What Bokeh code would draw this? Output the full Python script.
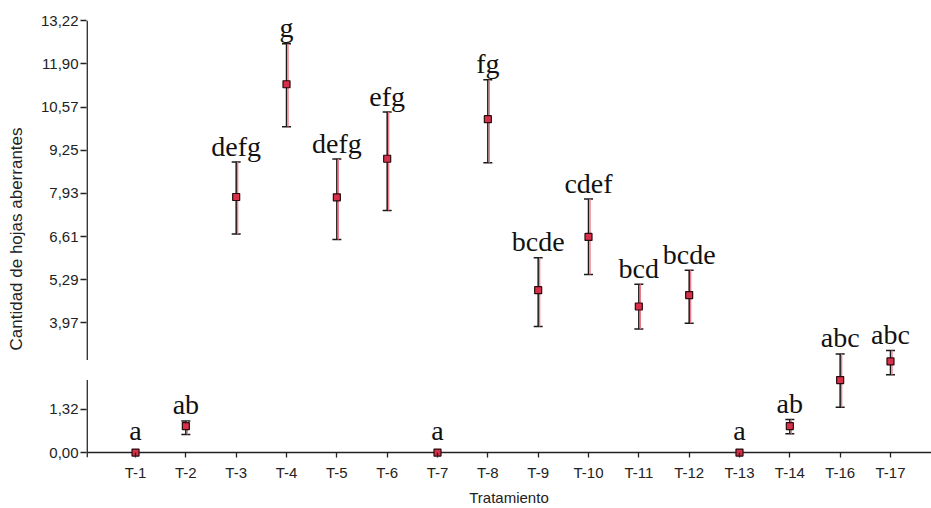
from bokeh.plotting import figure
from bokeh.models import Range1d, FixedTicker, Span, Whisker, TeeHead, ColumnDataSource
from bokeh.core.properties import value
from bokeh.embed import file_html
from bokeh.resources import INLINE

# ---- data ----
treatments = ["T-1", "T-2", "T-3", "T-4", "T-5", "T-6", "T-7", "T-8",
              "T-9", "T-10", "T-11", "T-12", "T-13", "T-14", "T-16", "T-17"]
means = [0.00, 0.81, 7.82, 11.27, 7.81, 8.99, 0.00, 10.20,
         4.97, 6.60, 4.47, 4.82, 0.00, 0.81, 2.22, 2.79]
upper = [0.00, 0.97, 8.89, 12.51, 8.98, 10.42, 0.00, 11.41,
         5.96, 7.76, 5.15, 5.58, 0.00, 1.01, 3.02, 3.12]
lower = [0.00, 0.55, 6.69, 9.97, 6.52, 7.41, 0.00, 8.87,
         3.86, 5.45, 3.78, 3.96, 0.00, 0.58, 1.39, 2.38]
letters = ["a", "ab", "defg", "g", "defg", "efg", "a", "fg",
           "bcde", "cdef", "bcd", "bcde", "a", "ab", "abc", "abc"]

y_ticks = [0.00, 1.32, 3.97, 5.29, 6.61, 7.93, 9.25, 10.57, 11.90, 13.22]
y_tick_labels = ["0,00", "1,32", "3,97", "5,29", "6,61", "7,93",
                 "9,25", "10,57", "11,90", "13,22"]

# axis-break extent (where the y-axis line is interrupted)
BREAK_LO = 2.22
BREAK_HI = 2.83

# ---- layout ----
X_START, X_END = 0.026, 16.815
Y_START, Y_END = -0.15, 13.22
FRAME_H = 508 - 20 - 49
PX = FRAME_H / (Y_END - Y_START)   # pixels per data unit (vertical)

xs = list(range(1, len(treatments) + 1))

p = figure(width=931, height=508, output_backend="svg", toolbar_location=None,
           x_range=Range1d(X_START, X_END), y_range=Range1d(Y_START, Y_END),
           min_border_left=86, min_border_right=0, min_border_top=20,
           min_border_bottom=49)
p.background_fill_color = "white"
p.border_fill_color = "white"
p.outline_line_color = None
p.xgrid.visible = False
p.ygrid.visible = False

# x axis
xa = p.xaxis[0]
xa.ticker = FixedTicker(ticks=xs)
xa.major_label_overrides = {x: t for x, t in zip(xs, treatments)}
xa.axis_line_color = None
xa.major_tick_in = 5
xa.major_tick_out = 0
xa.major_tick_line_color = "#222222"
xa.major_tick_line_width = 1.3
xa.minor_tick_line_color = None
xa.major_label_standoff = 6
xa.major_label_text_font = "Liberation Sans"
xa.major_label_text_font_size = "15px"
xa.major_label_text_color = "#222222"
xa.axis_label = "Tratamiento"
xa.axis_label_text_font = "Liberation Sans"
xa.axis_label_text_font_size = "15px"
xa.axis_label_text_font_style = "normal"
xa.axis_label_text_color = "#222222"
xa.axis_label_standoff = 5

# y axis
ya = p.yaxis[0]
ya.ticker = FixedTicker(ticks=y_ticks)
ya.major_label_overrides = {t: l for t, l in zip(y_ticks, y_tick_labels)}
ya.axis_line_color = None
ya.major_tick_in = 0
ya.major_tick_out = 6
ya.major_tick_line_color = "#222222"
ya.major_tick_line_width = 1.3
ya.minor_tick_line_color = None
ya.major_label_standoff = 2
ya.major_label_text_font = "Liberation Sans"
ya.major_label_text_font_size = "15px"
ya.major_label_text_color = "#222222"
ya.axis_label = "Cantidad de hojas aberrantes"
ya.axis_label_text_font = "Liberation Sans"
ya.axis_label_text_font_size = "17px"
ya.axis_label_text_font_style = "normal"
ya.axis_label_text_color = "#222222"
ya.axis_label_standoff = 12

# x axis line at y = 0
p.add_layout(Span(location=0, dimension="width", line_color="#222222",
                  line_width=1.5, level="underlay"))

# broken y axis line
ax_x = X_START + 0.012
p.segment(x0=[ax_x, ax_x], y0=[Y_START, BREAK_HI], x1=[ax_x, ax_x],
          y1=[BREAK_LO, Y_END], line_color="#222222", line_width=1.6)

# error bars (only where there is spread)
err_rows = [i for i in range(len(xs)) if upper[i] > lower[i]]
err = ColumnDataSource(dict(
    x=[xs[i] for i in err_rows],
    xr=[xs[i] + 0.03 for i in err_rows],
    upper=[upper[i] for i in err_rows],
    lower=[lower[i] for i in err_rows],
))
p.segment(x0="xr", y0="lower", x1="xr", y1="upper", source=err,
          line_color="#f07a8a", line_width=1.3)
p.add_layout(Whisker(source=err, base="x", upper="upper", lower="lower",
                     dimension="height", line_color="#1a1a1a", line_width=1.5,
                     upper_head=TeeHead(size=9, line_color="#1a1a1a", line_width=1.5),
                     lower_head=TeeHead(size=9, line_color="#1a1a1a", line_width=1.5)))

# means
gap_px = [22 if u <= 0 else 16 for u in upper]
src = ColumnDataSource(dict(
    x=xs, mean=means, letter=letters,
    label_y=[u + g / PX for u, g in zip(upper, gap_px)],
))
p.scatter(x="x", y="mean", source=src, marker="square", size=7,
          fill_color="#d8304a", line_color="#2a0a0e", line_width=1.2)

# significance letters
p.text(x="x", y="label_y", text="letter", source=src,
       text_font=value("Liberation Serif"), text_font_size="28px",
       text_align="center", text_baseline="alphabetic", text_color="#111111")

open("out.html", "w").write(file_html(p, INLINE))
